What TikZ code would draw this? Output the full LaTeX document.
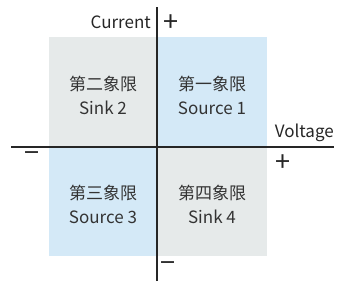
\documentclass[tikz,border=0pt]{standalone}
\usepackage{fontspec}
\setmainfont{Noto Sans CJK SC}
\usetikzlibrary{positioning}
\definecolor{sinkgray}{HTML}{E6EAEA}
\definecolor{srcblue}{HTML}{D4E9F7}
\definecolor{inkgray}{HTML}{333333}

\begin{document}
\begin{tikzpicture}[x=1pt, y=-1pt,
  quad/.style={minimum width=109pt, minimum height=109.5pt, inner sep=0pt},
  qtext/.style={align=center, inner sep=0pt, yshift=-3pt,
                font=\fontsize{17}{24}\selectfont, text=inkgray},
  axis/.style={line width=1.2pt, draw=black!85},
  lbl/.style={font=\fontsize{17}{20}\selectfont, text=black!85, inner sep=0pt},
  sgn/.style={font=\fontsize{27}{27}\selectfont, text=black!85, inner sep=0pt},
]
\useasboundingbox (0,0) rectangle (345,291);

% Quadrants
\node[quad, fill=srcblue]  (q1) at (212,92)
  [label={[qtext]center:第一象限\\Source 1}] {};
\node[quad, fill=sinkgray] (q2) at (103,92)
  [label={[qtext]center:第二象限\\Sink 2}] {};
\node[quad, fill=srcblue]  (q3) at (103,201)
  [label={[qtext]center:第三象限\\Source 3}] {};
\node[quad, fill=sinkgray] (q4) at (212,201)
  [label={[qtext]center:第四象限\\Sink 4}] {};

% Axes
\coordinate (itop) at (157,7);
\coordinate (ibot) at (157,281);
\coordinate (vleft) at (11,147);
\coordinate (vright) at (334,147);
\draw[axis] (vleft) -- (vright);
\draw[axis] (ibot) -- (itop);

% Axis labels and signs
\node[lbl, anchor=east] (cur) at (151,22) {Current};
\node[lbl, anchor=east] (volt) at (334,133) {Voltage};
\node[sgn] (iplus) at (171,23) {+};
\node[sgn] (iminus) at (168,267) {−};
\node[sgn] (vplus) at (283,163) {+};
\node[sgn] (vminus) at (32,157) {−};
\end{tikzpicture}
\end{document}
